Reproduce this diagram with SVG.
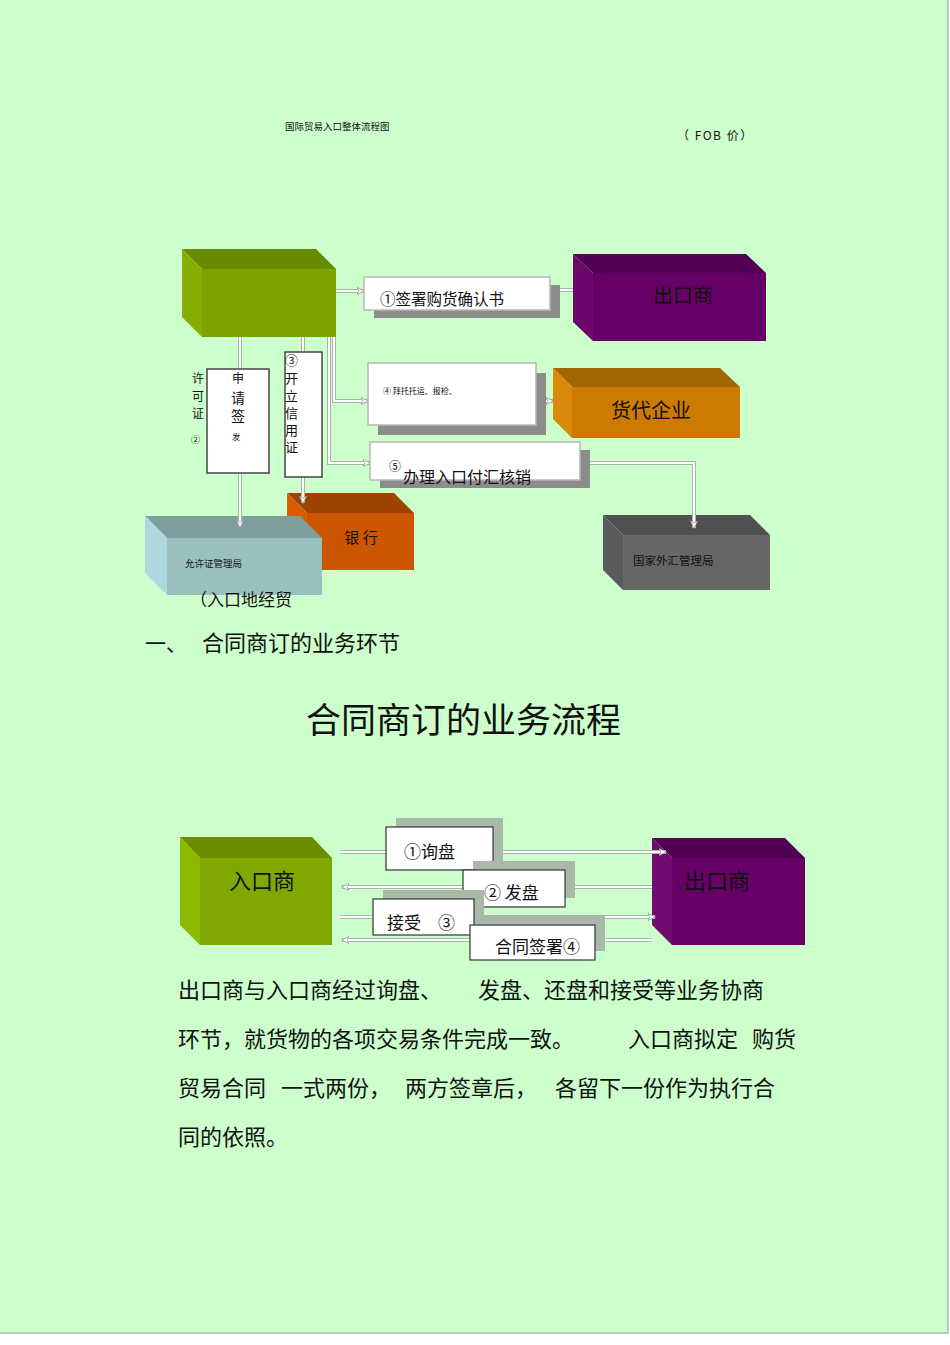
<svg xmlns="http://www.w3.org/2000/svg" width="950" height="1345" viewBox="0 0 950 1345">
<defs>
<style>
text{font-family:"Noto Sans CJK SC","Liberation Serif",serif;fill:#111}
.co{fill:none;stroke:#A9B5A9;stroke-width:4}
.ci{fill:none;stroke:#FFFFFF;stroke-width:2}
.wb{fill:#FFFFFF;stroke:#B8B8B8;stroke-width:1.5}
.db{fill:#FFFFFF;stroke:#444444;stroke-width:1.5}
.bb{fill:#FFFFFF;stroke:#333333;stroke-width:1.2}
.sh{fill:#8C8C8C}
.sh2{fill:#A9B8A9}
</style>
<marker id="ah" markerWidth="8" markerHeight="8" refX="7" refY="4" orient="auto" markerUnits="userSpaceOnUse">
<path d="M0,0.5 L7.5,4 L0,7.5 L2,4 Z" fill="#FFFFFF" stroke="#999999" stroke-width="0.8"/>
</marker>
</defs>
<rect x="0" y="0" width="950" height="1345" fill="#FFFFFF"/>
<rect x="0" y="0" width="948" height="1333" fill="#CCFFCC"/>
<path d="M948,0 V1333 H0" fill="none" stroke="#AAB8AA" stroke-width="1.5"/>

<text x="285" y="130" font-size="9.5">国际贸易入口整体流程图</text>
<text x="677" y="140" font-size="12" letter-spacing="1.5">（ FOB 价）</text>

<!-- top 3D boxes -->
<g id="importer-top">
<polygon points="182,249 316,249 336,269 202,269" fill="#668A00"/>
<polygon points="182,249 202,269 202,337 182,317" fill="#85AE00"/>
<rect x="202" y="269" width="134" height="68" fill="#7AA300"/>
</g>
<g id="exporter-top">
<polygon points="573,254 746,254 766,273 593,273" fill="#520052"/>
<polygon points="573,254 593,273 593,341 573,322" fill="#6C086C"/>
<rect x="593" y="273" width="173" height="68" fill="#660066"/>
<text x="683" y="303" font-size="20" text-anchor="middle" fill="#2A002A">出口商</text>
</g>
<g id="forwarder">
<polygon points="553,368 720,368 740,387 572,387" fill="#A36600"/>
<polygon points="553,368 572,387 572,438 553,419" fill="#DA8A08"/>
<rect x="572" y="387" width="168" height="51" fill="#CC7A00"/>
<text x="651" y="418" font-size="20" text-anchor="middle" fill="#2A1800">货代企业</text>
</g>
<g id="bank">
<polygon points="287,493 394,493 414,513 307,513" fill="#A04300"/>
<polygon points="287,493 307,513 307,570 287,550" fill="#D85C00"/>
<rect x="307" y="513" width="107" height="57" fill="#CC5500"/>
<text x="361" y="543" font-size="15" text-anchor="middle" fill="#4A1800">银 行</text>
</g>
<g id="license-bureau">
<polygon points="145,516 300,516 322,538 167,538" fill="#7F9F9F"/>
<polygon points="145,516 167,538 167,595 145,573" fill="#ADD8E0"/>
<rect x="167" y="538" width="155" height="57" fill="#99BFBF"/>
<text x="185" y="567" font-size="9.5" fill="#222">允许证管理局</text>
</g>
<text x="190" y="606" font-size="17">（入口地经贸</text>
<g id="safe">
<polygon points="603,515 750,515 770,535 623,535" fill="#505050"/>
<polygon points="603,515 623,535 623,590 603,570" fill="#5A5A5A"/>
<rect x="623" y="535" width="147" height="55" fill="#666666"/>
<text x="633" y="565" font-size="11.5" fill="#1E1E1E">国家外汇管理局</text>
</g>

<!-- bottom 3D boxes -->
<g id="importer">
<polygon points="180,837 312,837 332,858 200,858" fill="#6B8E00"/>
<polygon points="180,837 200,858 200,945 180,925" fill="#8CBA00"/>
<rect x="200" y="858" width="132" height="87" fill="#7FA800"/>
<text x="262" y="889" font-size="22" text-anchor="middle" fill="#111">入口商</text>
</g>
<g id="exporter">
<polygon points="652,838 785,838 805,858 672,858" fill="#520052"/>
<polygon points="652,838 672,858 672,945 652,925" fill="#700C70"/>
<rect x="672" y="858" width="133" height="87" fill="#660066"/>
<text x="717" y="889" font-size="22" text-anchor="middle" fill="#2A002A">出口商</text>
</g>

<!-- connectors -->
<g id="connectors">
<g class="co">
<path d="M336,291 H364"/>
<path d="M573,290 H550"/>
<path d="M334,337 V401 H368"/>
<path d="M329,337 V463 H370"/>
<path d="M536,401 H553"/>
<path d="M580,463 H694 V528"/>
<path d="M240,337 V369"/>
<path d="M240,473 V527"/>
<path d="M303,337 V352"/>
<path d="M303,477 V503"/>
<path d="M340,852 H666"/>
<path d="M652,887 H342"/>
<path d="M340,917 H655"/>
<path d="M652,940 H342"/>
</g>
<g class="ci">
<path d="M336,291 H364" marker-end="url(#ah)"/>
<path d="M573,290 H550" marker-end="url(#ah)"/>
<path d="M334,337 V401 H368" marker-end="url(#ah)"/>
<path d="M329,337 V463 H370" marker-end="url(#ah)"/>
<path d="M536,401 H553" marker-end="url(#ah)"/>
<path d="M580,463 H694 V528" marker-end="url(#ah)"/>
<path d="M240,337 V369"/>
<path d="M240,473 V527" marker-end="url(#ah)"/>
<path d="M303,337 V352"/>
<path d="M303,477 V503" marker-end="url(#ah)"/>
<path d="M340,852 H666" marker-end="url(#ah)"/>
<path d="M652,887 H342" marker-end="url(#ah)"/>
<path d="M340,917 H655" marker-end="url(#ah)"/>
<path d="M652,940 H342" marker-end="url(#ah)"/>
</g>
</g>

<!-- top label boxes -->
<g id="step1">
<rect class="sh" x="374" y="285" width="186" height="33"/>
<rect class="wb" x="364" y="277" width="186" height="33"/>
<text x="380" y="305" font-size="15.5">①签署购货确认书</text>
</g>
<g id="step4">
<rect class="sh" x="378" y="373" width="168" height="62"/>
<rect class="wb" x="368" y="363" width="168" height="62"/>
<text x="383" y="394" font-size="8">④ 拜托托运、报检、</text>
</g>
<g id="step5">
<rect class="sh" x="380" y="450" width="210" height="38"/>
<rect class="wb" x="370" y="442" width="210" height="38"/>
<text x="389" y="471" font-size="12">⑤</text>
<text x="403" y="483" font-size="16">办理入口付汇核销</text>
</g>
<g id="step2">
<rect class="db" x="207" y="369" width="62" height="104"/>
<text x="232" y="383" font-size="12">申</text>
<text x="231" y="403" font-size="14">请</text>
<text x="231" y="421" font-size="14">签</text>
<text x="232" y="440" font-size="8.5">发</text>
<text x="192" y="383" font-size="12">许</text>
<text x="192" y="401" font-size="12">可</text>
<text x="192" y="418" font-size="12">证</text>
<text x="191" y="443" font-size="9">②</text>
</g>
<g id="step3">
<rect class="db" x="285" y="352" width="37" height="125"/>
<text x="285" y="365" font-size="13">③</text>
<text x="285" y="383" font-size="13">开</text>
<text x="285" y="401" font-size="13">立</text>
<text x="285" y="418" font-size="13">信</text>
<text x="285" y="435" font-size="13">用</text>
<text x="285" y="452" font-size="13">证</text>
</g>

<text x="145" y="651" font-size="21">一、</text>
<text x="202" y="651" font-size="22">合同商订的业务环节</text>
<text x="306" y="733" font-size="35">合同商订的业务流程</text>

<!-- bottom label boxes -->
<g id="inquiry">
<rect class="sh2" x="396" y="818" width="107" height="43"/>
<rect class="bb" x="386" y="827" width="107" height="43"/>
<text x="404" y="858" font-size="17">①询盘</text>
</g>
<g id="offer">
<rect class="sh2" x="473" y="861" width="102" height="37"/>
<rect class="bb" x="463" y="870" width="102" height="37"/>
<text x="484" y="899" font-size="17">② 发盘</text>
</g>
<g id="accept">
<rect class="sh2" x="383" y="890" width="101" height="36"/>
<rect class="bb" x="373" y="899" width="101" height="36"/>
<text x="387" y="929" font-size="17">接受　③</text>
</g>
<g id="sign">
<rect class="sh2" x="480" y="916" width="125" height="35"/>
<rect class="bb" x="470" y="925" width="125" height="35"/>
<text x="495" y="953" font-size="17">合同签署④</text>
</g>

<g font-size="22">
<text x="178" y="998">出口商与入口商经过询盘、</text>
<text x="478" y="998">发盘、还盘和接受等业务协商</text>
<text x="178" y="1047">环节，就货物的各项交易条件完成一致。</text>
<text x="628" y="1047">入口商拟定</text>
<text x="752" y="1047">购货</text>
<text x="178" y="1096">贸易合同</text>
<text x="281" y="1096">一式两份，</text>
<text x="405" y="1096">两方签章后，</text>
<text x="555" y="1096">各留下一份作为执行合</text>
<text x="178" y="1145">同的依照。</text>
</g>
</svg>
